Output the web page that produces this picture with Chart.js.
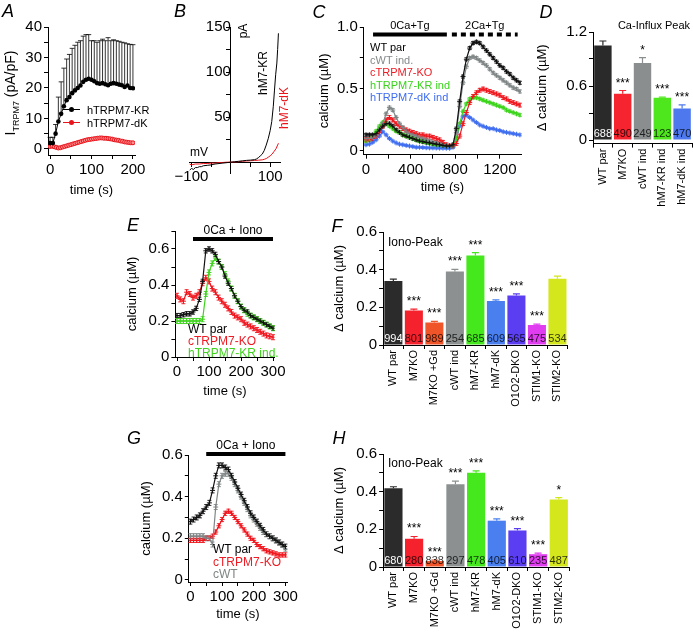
<!DOCTYPE html>
<html>
<head>
<meta charset="utf-8">
<script src="https://cdn.jsdelivr.net/npm/chart.js@4.4.1/dist/chart.umd.min.js"></script>
<style>
  body { margin: 0; background: #fff; }
  #fig { position: relative; width: 693px; height: 633px; overflow: hidden; font-family: "Liberation Sans", Arial, sans-serif; color: #000; }
  #fig canvas { position: absolute; }
  .lbl { position: absolute; white-space: nowrap; line-height: 1; }
  .c { transform: translate(-50%, -50%); }
  .l { transform: translateY(-50%); }
  .r { transform: translate(-50%, -50%) rotate(-90deg); }
  .pl { font-style: italic; font-size: 18px; }
  .smp { position: absolute; height: 0; border-top: 1px solid; }
  .dot { position: absolute; width: 5px; height: 5px; border-radius: 50%; }
</style>
</head>
<body>
<div id="fig">
  <canvas id="cA"></canvas><canvas id="cB"></canvas><canvas id="cC"></canvas><canvas id="cD"></canvas>
  <canvas id="cE"></canvas><canvas id="cF"></canvas><canvas id="cG"></canvas><canvas id="cH"></canvas>

  <div class="lbl pl c" style="left:8px;top:11px">A</div>
  <div class="lbl pl c" style="left:180px;top:11px">B</div>
  <div class="lbl pl c" style="left:319px;top:12px">C</div>
  <div class="lbl pl c" style="left:546px;top:12px">D</div>
  <div class="lbl pl c" style="left:133px;top:225px">E</div>
  <div class="lbl pl c" style="left:337px;top:226px">F</div>
  <div class="lbl pl c" style="left:134px;top:438px">G</div>
  <div class="lbl pl c" style="left:339px;top:438px">H</div>

  <!-- A -->
  <div class="lbl r" style="left:12px;top:93px;font-size:14px">I<sub style="font-size:9px">TRPM7</sub> (pA/pF)</div>
  <div class="smp" style="left:63px;top:109px;width:17px;border-color:#000"></div>
  <div class="dot" style="left:69px;top:107px;background:#000"></div>
  <div class="lbl l" style="left:87px;top:110px;font-size:11px">hTRPM7-KR</div>
  <div class="smp" style="left:63px;top:122px;width:17px;border-color:#e8131b"></div>
  <div class="dot" style="left:69px;top:120px;background:#e8131b"></div>
  <div class="lbl l" style="left:87px;top:123px;font-size:11px">hTRPM7-dK</div>

  <!-- B -->
  <div class="lbl r" style="left:243px;top:31px;font-size:12px">pA</div>
  <div class="lbl l" style="left:190px;top:152px;font-size:12px">mV</div>
  <div class="lbl r" style="left:263px;top:73px;font-size:12px">hM7-KR</div>
  <div class="lbl r" style="left:284px;top:108px;font-size:12px;color:#e8131b">hM7-dK</div>

  <!-- C legend -->
  <div class="lbl l" style="left:370px;top:47px;font-size:11px">WT par</div>
  <div class="lbl l" style="left:370px;top:59.5px;font-size:11px;color:#858a8a">cWT ind.</div>
  <div class="lbl l" style="left:370px;top:72px;font-size:11px;color:#ee1c24">cTRPM7-KO</div>
  <div class="lbl l" style="left:370px;top:84.5px;font-size:11px;color:#39d31b">hTRPM7-KR ind</div>
  <div class="lbl l" style="left:370px;top:97px;font-size:11px;color:#3e6cf0">hTRPM7-dK ind</div>

  <div class="lbl c" style="left:654px;top:25px;font-size:11px">Ca-Influx Peak</div>

  <!-- E legend -->
  <div class="lbl l" style="left:188px;top:329px;font-size:12px">WT par</div>
  <div class="lbl l" style="left:188px;top:341px;font-size:12px;color:#ee1c24">cTRPM7-KO</div>
  <div class="lbl l" style="left:188px;top:353px;font-size:12px;color:#3fd21e">hTRPM7-KR ind.</div>

  <div class="lbl l" style="left:388px;top:242px;font-size:12px">Iono-Peak</div>

  <!-- G legend -->
  <div class="lbl l" style="left:213px;top:549px;font-size:12px">WT par</div>
  <div class="lbl l" style="left:213px;top:561.5px;font-size:12px;color:#ee1c24">cTRPM7-KO</div>
  <div class="lbl l" style="left:213px;top:574px;font-size:12px;color:#7f8585">cWT</div>

  <div class="lbl l" style="left:388px;top:463px;font-size:12px">Iono-Peak</div>
</div>

<script>
// ---------- A: TRPM7 current density vs time ----------
const tA = [0,6.7,13.3,20,26.7,33.3,40,46.7,53.3,60,66.7,73.3,80,86.7,93.3,100,106.7,113.3,120,126.7,133.3,140,146.7,153.3,160,166.7,173.3,180,186.7,193.3,200];
const krA = [1.9,1.9,5,9,11.5,14,16,17,18.3,19.2,20,20.8,22,22.7,23,22.7,22.2,21.6,21.4,21.6,21.2,20.9,21.4,21.6,21.4,21.1,20.9,20.3,20.8,20,19.9];
const krErrA = [1.9,1.9,3,8,10.5,12.5,13.5,14,14.7,14.8,15,14.7,15,14.8,14.5,12.8,13.3,13.4,14.1,14.4,14.3,15.6,14.1,14.2,14.1,14.2,14.1,14.5,13.7,14.3,14.3];
const tA2 = [0,5,10,15,20,25,30,35,40,45,50,55,60,65,70,75,80,85,90,95,100,105,110,115,120,125,130,135,140,145,150,155,160,165,170,175,180,185,190,195,200];
const dkA = [0.8,0.9,0.7,0.5,0.3,0.4,0.6,0.8,1.0,1.2,1.4,1.6,1.8,2.0,2.2,2.4,2.6,2.8,3.0,3.1,3.2,3.3,3.4,3.5,3.6,3.6,3.5,3.5,3.4,3.3,3.2,3.0,2.9,2.8,2.6,2.5,2.3,2.2,2.1,2.0,2.0];

// ---------- B: I-V curves ----------
const vKR = [-105,-100,-95,-90,-85,-80,-75,-70,-60,-50,-40,-30,-20,-10,0,10,20,30,40,50,60,65,70,75,80,85,90,95,100,104,108,111,114,117,119,121];
const iKR = [-9,-7,-8,-6,-6,-5,-5,-4,-3.5,-3,-2,-1.5,-1,-0.5,0,0.5,1,1.5,2,2.3,2.8,3.5,5,7,9,13,19,26,35,45,62,80,97,110,125,143];
const vDK = [-105,-100,-90,-80,-70,-60,-50,-40,-30,-20,-10,0,10,20,30,40,50,60,70,80,85,90,95,100,105,110,115,118,121];
const iDK = [-2,-3,-2,-2,-1.5,-1.5,-1,-1,-0.5,-0.3,0,0,0.3,0.6,1,1.3,1.6,1.9,2.2,2.6,3.2,4,5.5,7,9,12,15,18,21];

// ---------- C: Tg store release and Ca influx ----------
const tC = [0,30,60,90,120,150,180,210,240,270,300,330,360,390,420,450,480,510,540,570,600,630,660,690,720,750,780,810,840,870,900,930,960,990,1020,1050,1080,1110,1140,1170,1200,1230,1260,1290,1320,1350,1380];
const tickC = [0,200,400,600,800,1000,1200];
const wtC = [0.13,0.13,0.13,0.14,0.17,0.2,0.22,0.22,0.2,0.17,0.15,0.13,0.12,0.11,0.1,0.09,0.08,0.075,0.07,0.065,0.06,0.055,0.05,0.045,0.04,0.04,0.05,0.18,0.4,0.6,0.74,0.83,0.87,0.88,0.87,0.84,0.81,0.78,0.75,0.72,0.69,0.67,0.64,0.62,0.59,0.57,0.55];
const cwtC = [0.1,0.1,0.11,0.13,0.17,0.22,0.3,0.35,0.33,0.27,0.22,0.19,0.16,0.14,0.13,0.12,0.11,0.1,0.09,0.08,0.07,0.065,0.06,0.05,0.045,0.04,0.05,0.15,0.36,0.55,0.68,0.75,0.76,0.75,0.73,0.71,0.69,0.66,0.63,0.61,0.59,0.57,0.55,0.53,0.51,0.5,0.48];
const koC = [0.09,0.09,0.1,0.12,0.15,0.2,0.25,0.27,0.25,0.22,0.2,0.18,0.17,0.16,0.15,0.14,0.13,0.13,0.12,0.12,0.11,0.1,0.09,0.07,0.05,0.04,0.04,0.06,0.12,0.22,0.31,0.39,0.44,0.47,0.49,0.5,0.49,0.48,0.47,0.46,0.45,0.43,0.42,0.4,0.39,0.38,0.37];
const krC = [0.08,0.09,0.12,0.16,0.2,0.23,0.22,0.2,0.18,0.16,0.15,0.13,0.12,0.11,0.1,0.09,0.08,0.075,0.07,0.06,0.055,0.05,0.05,0.045,0.04,0.035,0.04,0.1,0.22,0.32,0.38,0.42,0.43,0.43,0.42,0.41,0.4,0.39,0.38,0.37,0.36,0.35,0.33,0.32,0.31,0.3,0.29];
const dkC = [0.05,0.055,0.07,0.09,0.12,0.155,0.13,0.1,0.08,0.065,0.055,0.05,0.045,0.04,0.035,0.03,0.03,0.028,0.026,0.025,0.025,0.024,0.023,0.023,0.022,0.022,0.03,0.1,0.2,0.28,0.29,0.27,0.25,0.23,0.21,0.2,0.19,0.18,0.18,0.17,0.165,0.155,0.15,0.145,0.14,0.135,0.13];

// ---------- D: Ca influx peak ----------
const catD = ['WT par','M7KO','cWT ind','hM7-KR ind','hM7-dK ind'];
const valD = [1.05,0.515,0.855,0.47,0.35];
const errD = [0.05,0.035,0.06,0.007,0.04];
const nD = ['688','490','249','123','470'];
const starD = ['','***','*','***','***'];
const colD = ['#2a2a2a','#f5242f','#8a8e8e','#4ee61c','#4d78ee'];

// ---------- E / G: ionomycin traces ----------
const tE = [0,10,20,30,40,50,60,70,80,90,100,110,120,130,140,150,160,170,180,190,200,210,220,230,240,250,260,270,280,290,300];
const wtE = [0.23,0.23,0.235,0.24,0.24,0.25,0.27,0.32,0.42,0.59,0.6,0.59,0.57,0.53,0.5,0.45,0.41,0.38,0.34,0.31,0.28,0.26,0.25,0.23,0.22,0.21,0.2,0.19,0.18,0.17,0.16];
const koE = [0.34,0.32,0.31,0.36,0.35,0.33,0.34,0.36,0.41,0.44,0.42,0.38,0.36,0.33,0.31,0.29,0.27,0.25,0.23,0.22,0.21,0.19,0.18,0.17,0.16,0.15,0.14,0.13,0.12,0.115,0.11];
const krE = [0.2,0.2,0.2,0.2,0.2,0.2,0.2,0.2,0.21,0.35,0.47,0.52,0.55,0.53,0.5,0.46,0.42,0.38,0.34,0.31,0.28,0.26,0.24,0.23,0.22,0.21,0.2,0.19,0.18,0.17,0.16];
const tG = [0,10,20,30,40,50,60,70,80,90,100,110,120,130,140,150,160,170,180,190,200,210,220,230,240,250,260,270,280,290,300];
const wtG = [0.28,0.29,0.3,0.31,0.33,0.35,0.37,0.43,0.5,0.55,0.55,0.54,0.53,0.5,0.47,0.44,0.41,0.38,0.35,0.32,0.3,0.28,0.26,0.24,0.22,0.21,0.2,0.19,0.18,0.17,0.16];
const cwtG = [0.21,0.21,0.21,0.21,0.21,0.2,0.2,0.17,0.35,0.46,0.5,0.51,0.51,0.49,0.46,0.43,0.4,0.37,0.34,0.31,0.29,0.27,0.25,0.23,0.22,0.21,0.2,0.19,0.18,0.17,0.15];
const koG = [0.19,0.19,0.19,0.19,0.19,0.2,0.2,0.21,0.23,0.26,0.29,0.32,0.33,0.32,0.3,0.28,0.26,0.24,0.22,0.2,0.19,0.17,0.16,0.15,0.14,0.135,0.13,0.125,0.12,0.12,0.12];

// ---------- F / H: Iono peak ----------
const catFH = ['WT par','M7KO','M7KO +Gd','cWT ind','hM7-KR','hM7-dK','O1O2-DKO','STIM1-KO','STIM2-KO'];
const colFH = ['#2b2b2b','#f5222d','#f0552a','#8c9090','#45e81c','#4a7ff0','#5c3ef2','#e03cf0','#d4e61c'];
const valF = [0.34,0.183,0.12,0.39,0.475,0.233,0.263,0.106,0.352];
const errF = [0.01,0.007,0.005,0.012,0.015,0.007,0.008,0.005,0.014];
const nF = ['994','801','989','254','685','609','565','475','534'];
const starF = ['','***','***','***','***','***','***','***',''];
const valH = [0.418,0.15,0.032,0.44,0.5,0.246,0.194,0.068,0.358];
const errH = [0.008,0.012,0.004,0.016,0.01,0.01,0.01,0.006,0.01];
const nH = ['680','280','838','297','478','405','610','235','487'];
const starH = ['','***','***','***','***','***','***','***','*'];

const FONT = '"Liberation Sans", Arial, sans-serif';
Chart.defaults.font.family = FONT;
Chart.defaults.color = '#000';
Chart.defaults.animation = false;
Chart.defaults.responsive = false;
Chart.defaults.plugins.legend.display = false;
Chart.defaults.plugins.tooltip.enabled = false;

// error bars for line datasets (ds.err scalar or array)
const errBars = {
  id: 'errBars',
  beforeDatasetsDraw(chart) {
    const ctx = chart.ctx, ys = chart.scales.y;
    chart.data.datasets.forEach((ds, di) => {
      if (ds.err == null) return;
      const meta = chart.getDatasetMeta(di);
      ctx.save();
      ctx.strokeStyle = ds.borderColor;
      ctx.lineWidth = ds.errWidth || 1;
      ctx.beginPath();
      meta.data.forEach((pt, i) => {
        const e = Array.isArray(ds.err) ? ds.err[i] : ds.err;
        const v = ds.data[i].y;
        const yt = ys.getPixelForValue(v + e);
        const yb = ds.upOnly ? pt.y : ys.getPixelForValue(v - e);
        const c = ds.cap || 0;
        ctx.moveTo(pt.x, yb); ctx.lineTo(pt.x, yt);
        if (c) {
          ctx.moveTo(pt.x - c, yt); ctx.lineTo(pt.x + c, yt);
          if (!ds.upOnly) { ctx.moveTo(pt.x - c, yb); ctx.lineTo(pt.x + c, yb); }
        }
      });
      ctx.stroke();
      ctx.restore();
    });
  }
};

// error bars, n and significance stars for bar charts
const barNotes = {
  id: 'barNotes',
  afterDatasetsDraw(chart, args, o) {
    if (!o.n) return;
    const ctx = chart.ctx, ys = chart.scales.y, ds = chart.data.datasets[0];
    const meta = chart.getDatasetMeta(0);
    const y0 = ys.getPixelForValue(0);
    ctx.save();
    ctx.textAlign = 'center';
    meta.data.forEach((bar, i) => {
      const top = ys.getPixelForValue(ds.data[i] + o.err[i]);
      ctx.strokeStyle = o.colors[i];
      ctx.lineWidth = 1.2;
      ctx.beginPath();
      ctx.moveTo(bar.x, bar.y); ctx.lineTo(bar.x, top);
      ctx.moveTo(bar.x - 3.5, top); ctx.lineTo(bar.x + 3.5, top);
      ctx.stroke();
      ctx.fillStyle = '#000';
      ctx.font = '12px ' + FONT;
      ctx.textBaseline = 'alphabetic';
      ctx.fillText(o.stars[i], bar.x, top - 4);
      ctx.fillStyle = i === 0 ? '#fff' : 'rgba(0,0,0,0.78)';
      ctx.font = '11px ' + FONT;
      ctx.fillText(o.n[i], bar.x, y0 - 3);
    });
    ctx.restore();
  }
};

// solution-application bars above traces
const stimBars = {
  id: 'stimBars',
  afterDraw(chart, args, o) {
    if (!o.bars) return;
    const ctx = chart.ctx, xs = chart.scales.x, ys = chart.scales.y;
    o.bars.forEach(b => {
      const x0 = xs.getPixelForValue(b.from), x1 = xs.getPixelForValue(b.to), y = ys.getPixelForValue(b.y);
      ctx.save();
      ctx.strokeStyle = '#000';
      ctx.lineWidth = 4;
      if (b.dash) ctx.setLineDash(b.dash);
      ctx.beginPath(); ctx.moveTo(x0, y); ctx.lineTo(x1, y); ctx.stroke();
      ctx.setLineDash([]);
      ctx.fillStyle = '#000';
      ctx.font = (o.size || 12) + 'px ' + FONT;
      ctx.textAlign = 'center';
      ctx.fillText(b.label, (x0 + x1) / 2, y - 5);
      ctx.restore();
    });
  }
};
Chart.register(errBars, barNotes, stimBars);

function place(id, L, T, W, H) {
  const c = document.getElementById(id);
  c.width = W; c.height = H;
  c.style.left = L + 'px'; c.style.top = T + 'px';
  return c;
}

const every = (m, dec) => v => {
  const k = Math.round(v / m);
  return Math.abs(k * m - v) < 1e-6 ? (k === 0 ? '0' : (k * m).toFixed(dec)) : '';
};

function linAxis(o) {
  const ax = {
    type: 'linear', position: o.position, min: o.min, max: o.max,
    border: { color: '#000', width: 1 },
    grid: { drawOnChartArea: false, tickLength: 4, color: '#000' },
    ticks: { stepSize: o.step, includeBounds: false, autoSkip: false, maxRotation: 0,
             padding: o.pad == null ? 2 : o.pad, font: { size: 15 }, callback: o.fmt },
    title: { display: !!o.title, text: o.title, font: { size: 13 }, padding: { top: 0, bottom: o.tpb || 0 } },
    afterFit(s) {
      if (o.size != null) { if (s.isHorizontal()) s.height = o.size; else s.width = o.size; }
      s.paddingLeft = s.paddingRight = s.paddingTop = s.paddingBottom = 0;
    }
  };
  if (o.ticks) ax.afterBuildTicks = s => { s.ticks = o.ticks.map(v => ({ value: v })); };
  return ax;
}

function catAxis(size) {
  return {
    type: 'category', offset: true,
    border: { color: '#000', width: 1 },
    grid: { drawOnChartArea: false, tickLength: 4, offset: true, color: '#000' },
    ticks: { autoSkip: false, minRotation: 90, maxRotation: 90, padding: 1, font: { size: 11 } },
    afterFit(s) { s.height = size; s.paddingLeft = s.paddingRight = s.paddingTop = s.paddingBottom = 0; }
  };
}

const pts = (xs, ys) => xs.map((x, i) => ({ x: x, y: ys[i] }));

function trace(xs, ys, color, err) {
  return { data: pts(xs, ys), borderColor: color, borderWidth: 1.2, pointStyle: 'cross',
           pointRadius: 2.5, pointBorderColor: color, pointBorderWidth: 1, err: err, cap: 2, errWidth: 0.9 };
}

function bars(id, L, T, W, H, cats, vals, errs, ns, stars, cols, ax) {
  place(id, L, T, W, H);
  new Chart(id, {
    type: 'bar',
    data: { labels: cats, datasets: [{ data: vals, backgroundColor: cols, borderWidth: 0,
                                       barPercentage: 0.88, categoryPercentage: 1 }] },
    options: {
      layout: { padding: { left: 0, right: ax.right, top: ax.top, bottom: 0 } },
      scales: {
        x: catAxis(ax.xs),
        y: linAxis({ position: 'left', min: ax.min, max: ax.max, step: ax.step, fmt: ax.fmt,
                     size: ax.ys, title: '\u0394 calcium (\u00b5M)' })
      },
      plugins: { barNotes: { err: errs, n: ns, stars: stars, colors: cols } }
    }
  });
}

// A
place('cA', 0, 0, 160, 200);
new Chart('cA', {
  type: 'line',
  data: { datasets: [
    { data: pts(tA, krA), borderColor: '#000', borderWidth: 1, pointRadius: 2.3, pointBackgroundColor: '#000',
      pointBorderWidth: 0, err: krErrA, upOnly: true, cap: 2.5, errWidth: 0.8 },
    { data: pts(tA2, dkA), borderColor: '#e8131b', borderWidth: 1, pointRadius: 2, pointBackgroundColor: '#ff8f8f',
      pointBorderColor: '#e8131b', pointBorderWidth: 1, err: 0.4, cap: 1.5, errWidth: 0.8 }
  ] },
  options: {
    layout: { padding: { left: 0, right: 25, top: 27, bottom: 0 } },
    scales: {
      x: linAxis({ position: 'bottom', min: -5, max: 205, step: 50, fmt: every(100, 0), size: 45, title: 'time (s)', tpb: 2 }),
      y: linAxis({ position: 'left', min: -2, max: 40, step: 5, fmt: every(10, 0), size: 48 })
    }
  }
});

// B
place('cB', 170, 0, 125, 190);
new Chart('cB', {
  type: 'line',
  data: { datasets: [
    { data: pts(vKR, iKR), borderColor: '#000', borderWidth: 1, pointRadius: 0 },
    { data: pts(vDK, iDK), borderColor: '#e8131b', borderWidth: 1, pointRadius: 0 }
  ] },
  options: {
    layout: { padding: { left: 19.5, right: 15, top: 27, bottom: 17 } },
    scales: {
      x: linAxis({ position: { y: 0 }, min: -105, max: 125, step: 50,
                   fmt: v => v === 100 ? '100' : (v === -100 ? '\u2212100' : '') }),
      y: linAxis({ position: { x: 0 }, min: -12, max: 150, step: 25,
                   fmt: v => (v > 0 && v % 50 === 0) ? String(v) : '', pad: 5 })
    }
  }
});

// C
place('cC', 317, 0, 210, 200);
new Chart('cC', {
  type: 'line',
  data: { datasets: [
    trace(tC, wtC, '#111111', 0.012),
    trace(tC, cwtC, '#7f8585', 0.012),
    trace(tC, koC, '#f0161e', 0.015),
    trace(tC, krC, '#3bd41a', 0.01),
    trace(tC, dkC, '#3f6ef0', 0.008)
  ] },
  options: {
    layout: { padding: { left: 0, right: 6, top: 27, bottom: 0 } },
    scales: {
      x: linAxis({ position: 'bottom', min: -20, max: 1390, step: 200, ticks: tickC, fmt: every(400, 0),
                   size: 45.3, title: 'time (s)', tpb: 5 }),
      y: linAxis({ position: 'left', min: -0.03, max: 1.0, step: 0.25, fmt: every(0.5, 1), size: 46.8, title: 'calcium (\u00b5M)' })
    },
    plugins: { stimBars: { size: 11, bars: [
      { from: 63, to: 725, y: 0.94, label: '0Ca+Tg' },
      { from: 770, to: 1360, y: 0.94, label: '2Ca+Tg', dash: [5, 4] }
    ] } }
  }
});

// D
bars('cD', 535, 0, 158, 215, catD, valD, errD, nD, starD, colD,
     { right: 1, top: 32, xs: 71.4, ys: 58, min: -0.04, max: 1.2, step: 0.3, fmt: every(0.6, 1) });

// E
place('cE', 125, 215, 160, 185);
new Chart('cE', {
  type: 'line',
  data: { datasets: [
    trace(tE, wtE, '#111111', 0.012),
    trace(tE, krE, '#3fd21e', 0.014),
    trace(tE, koE, '#f0161e', 0.014)
  ] },
  options: {
    layout: { padding: { left: 0, right: 10.4, top: 16, bottom: 0 } },
    scales: {
      x: linAxis({ position: 'bottom', min: -5, max: 305, step: 50, fmt: every(100, 0), size: 43, title: 'time (s)', tpb: 1 }),
      y: linAxis({ position: 'left', min: 0, max: 0.7, step: 0.1, fmt: every(0.2, 1), size: 50.4, title: 'calcium (\u00b5M)' })
    },
    plugins: { stimBars: { size: 12, bars: [{ from: 50, to: 300, y: 0.655, label: '0Ca + Iono' }] } }
  }
});

// F
bars('cF', 331.6, 215, 240, 200, catFH, valF, errF, nF, starF, colFH,
     { right: 4.3, top: 17, xs: 70, ys: 51.1, min: 0, max: 0.6, step: 0.1, fmt: every(0.2, 1) });

// G
place('cG', 138.6, 430, 160, 200);
new Chart('cG', {
  type: 'line',
  data: { datasets: [
    trace(tG, wtG, '#111111', 0.012),
    trace(tG, cwtG, '#7f8585', 0.012),
    trace(tG, koG, '#f0161e', 0.01)
  ] },
  options: {
    layout: { padding: { left: 0, right: 12, top: 25, bottom: 0 } },
    scales: {
      x: linAxis({ position: 'bottom', min: -5, max: 305, step: 50, fmt: every(100, 0), size: 48, title: 'time (s)', tpb: 8 }),
      y: linAxis({ position: 'left', min: -0.01, max: 0.6, step: 0.1, fmt: every(0.2, 1), size: 49.8, title: 'calcium (\u00b5M)' })
    },
    plugins: { stimBars: { size: 12, bars: [{ from: 50, to: 300, y: 0.605, label: '0Ca + Iono' }] } }
  }
});

// H
bars('cH', 331.6, 430, 245, 203, catFH, valH, errH, nH, starH, colFH,
     { right: 7.9, top: 24, xs: 66, ys: 51.1, min: 0, max: 0.6, step: 0.1, fmt: every(0.2, 1) });
</script>
</body>
</html>
